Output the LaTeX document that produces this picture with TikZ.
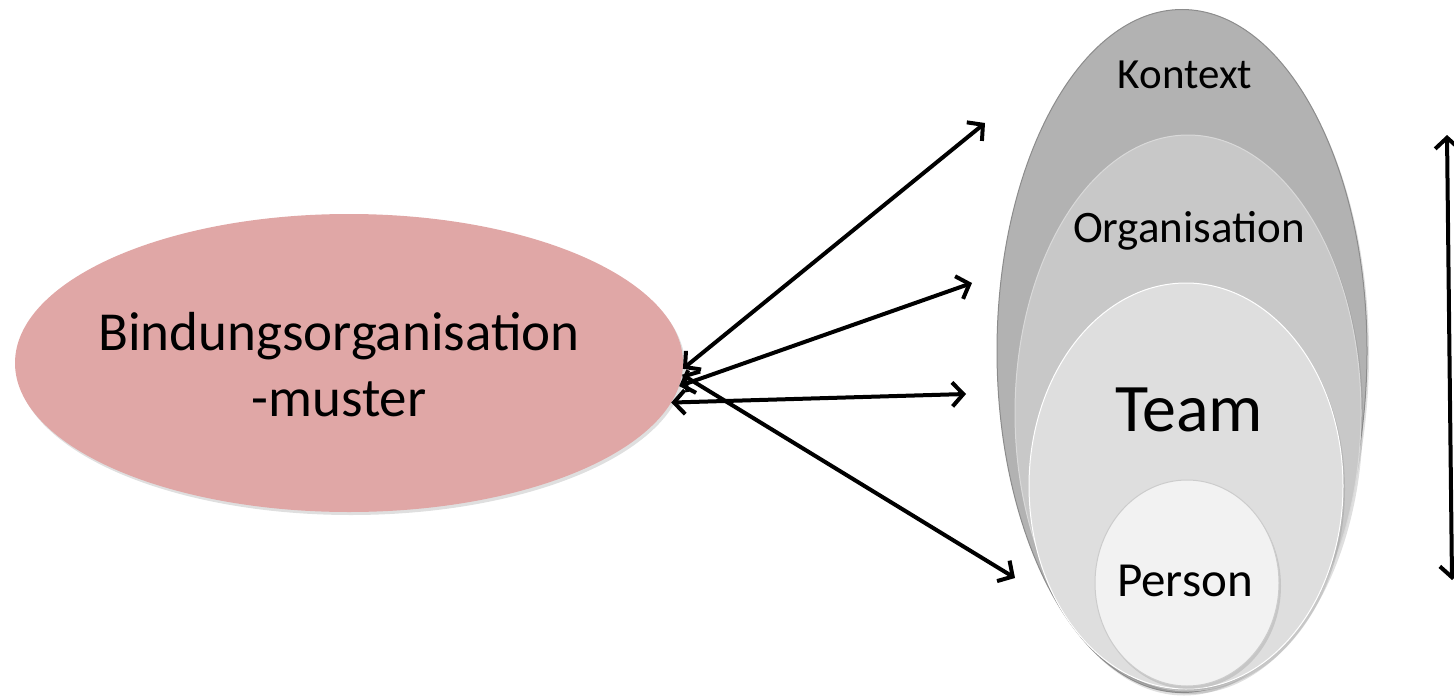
\documentclass[tikz,border=0pt]{standalone}
\usepackage{fontspec}
\setmainfont{Carlito}
\usetikzlibrary{shapes.geometric,arrows.meta,shadows}
\definecolor{pinkc}{RGB}{224,167,166}
\definecolor{kontextc}{RGB}{178,178,178}
\definecolor{orgc}{RGB}{200,200,200}
\definecolor{teamc}{RGB}{222,222,222}
\definecolor{personc}{RGB}{242,242,242}
\definecolor{edgec}{RGB}{140,140,140}
\begin{document}
\begin{tikzpicture}[x=1pt,y=-1pt,
  oval/.style={ellipse, inner sep=0pt, drop shadow={opacity=0.25, shadow xshift=2pt, shadow yshift=-3pt}},
  lbl/.style={inner sep=0pt, text=black},
  link/.style={line width=4pt, {Straight Barb[length=11pt,width=24pt]}-{Straight Barb[length=11pt,width=24pt]}}
]
\useasboundingbox (0,0) rectangle (1454,696);
% left ellipse
\node[oval, fill=pinkc, minimum width=668pt, minimum height=298pt] (bind) at (349,363) {};
\node[lbl, align=center, font=\fontsize{55}{66}\selectfont] (tb) at (339,365) {Bindungsorganisation\\-muster};
% nested ellipses
\node[oval, fill=kontextc, draw=edgec, line width=1pt, minimum width=370pt, minimum height=683pt] (kontext) at (1182,351) {};
\node[oval, fill=orgc, draw=white!85!black, line width=1pt, minimum width=346pt, minimum height=556pt] (org) at (1188,413) {};
\node[oval, fill=teamc, draw=white, line width=1pt, minimum width=314pt, minimum height=406pt] (team) at (1186,486) {};
\node[oval, fill=personc, draw=white!80!black, line width=1pt, minimum width=184pt, minimum height=206pt] (person) at (1187,583) {};
\node[lbl, font=\fontsize{43}{50}\selectfont] (tk) at (1185,75) {Kontext};
\node[lbl, font=\fontsize{45}{52}\selectfont] (to) at (1189,231) {Organisation};
\node[lbl, font=\fontsize{68}{78}\selectfont] (tt) at (1189,410) {Team};
\node[lbl, font=\fontsize{49}{56}\selectfont] (tp) at (1185,581) {Person};
% arrow ends
\coordinate (e1) at (985,123);
\coordinate (e2) at (972,283);
\coordinate (e3) at (966,394);
\coordinate (e4) at (1015,578);
\coordinate (vt) at (1447,135);
\coordinate (vb) at (1452,580);
\draw[link] (bind.-1) -- (e1);
\draw[link] (bind.-4) -- (e2);
\draw[link] (bind.-7) -- (e3);
\draw[link] (bind.-2) -- (e4);
\draw[link] (vt) -- (vb);
\end{tikzpicture}
\end{document}
